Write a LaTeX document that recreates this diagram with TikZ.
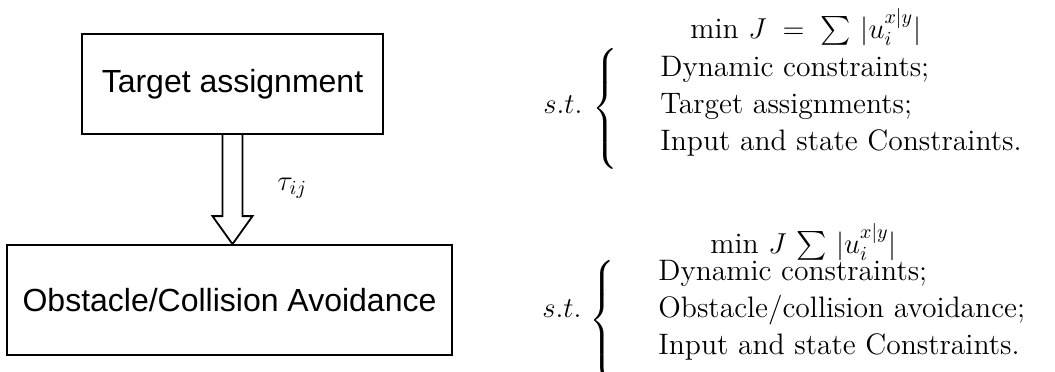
\documentclass[tikz,border=0pt]{standalone}
\usepackage{amsmath}
\usepackage{fontspec}
\newfontfamily\arialf{Liberation Sans}
\usetikzlibrary{calc}
\tikzset{
  blockbox/.style={draw, line width=0.9pt, inner sep=0pt, font=\arialf\fontsize{16}{19}\selectfont},
  mtext/.style={inner sep=0pt, anchor=base west, font=\fontsize{14.8}{18}\selectfont},
  bracenode/.style={inner sep=0pt, font=\fontsize{14.8}{18}\selectfont},
  blockarrow/.style={draw, line width=0.9pt, line join=miter}
}
\newcommand{\bigbrace}{$\delimitershortfall=0pt\delimiterfactor=1000\left\{\vrule height 32.45pt depth 25.05pt width 0pt\right.$}
\begin{document}
\begin{tikzpicture}[x=0.5pt,y=-0.5pt]
\useasboundingbox (0,0) rectangle (1055,371);
\node[blockbox, minimum width=150.5pt, minimum height=50pt] (ta) at (232.5,84) {Target assignment};
\node[blockbox, minimum width=222.5pt, minimum height=55pt] (oc) at (229.5,300) {Obstacle/Collision Avoidance};
\coordinate (tip) at (ta.south |- oc.north);
\draw[blockarrow] ($(ta.south)+(-10,0)$) -- ($(tip)+(-10,-28)$) -- ($(tip)+(-20,-28)$) -- (tip)
  -- ($(tip)+(20,-28)$) -- ($(tip)+(10,-28)$) -- ($(ta.south)+(10,0)$);
\node[mtext] (tau) at (277,190) {$\tau_{ij}$};
% block 1
\node[mtext] (min1) at (690,38) {$\min\, J\;=\;\sum\,|u_i^{x|y}|$};
\node[mtext] (st1) at (543,113) {$s.t.$};
\node[bracenode, anchor=north] (br1) at (606,48) {\bigbrace};
\node[mtext] (a1) at (660,76) {Dynamic constraints;};
\node[mtext] (a2) at (660,113) {Target assignments;};
\node[mtext] (a3) at (660,150) {Input and state Constraints.};
% block 2
\node[mtext] (min2) at (710,253) {$\min\, J\,\sum\,|u_i^{x|y}|$};
\node[mtext] (st2) at (542,317) {$s.t.$};
\node[bracenode, anchor=north] (br2) at (603,260) {\bigbrace};
\node[mtext] (b1) at (658,280) {Dynamic constraints;};
\node[mtext] (b2) at (658,317) {Obstacle/collision avoidance;};
\node[mtext] (b3) at (658,354) {Input and state Constraints.};
\end{tikzpicture}
\end{document}
